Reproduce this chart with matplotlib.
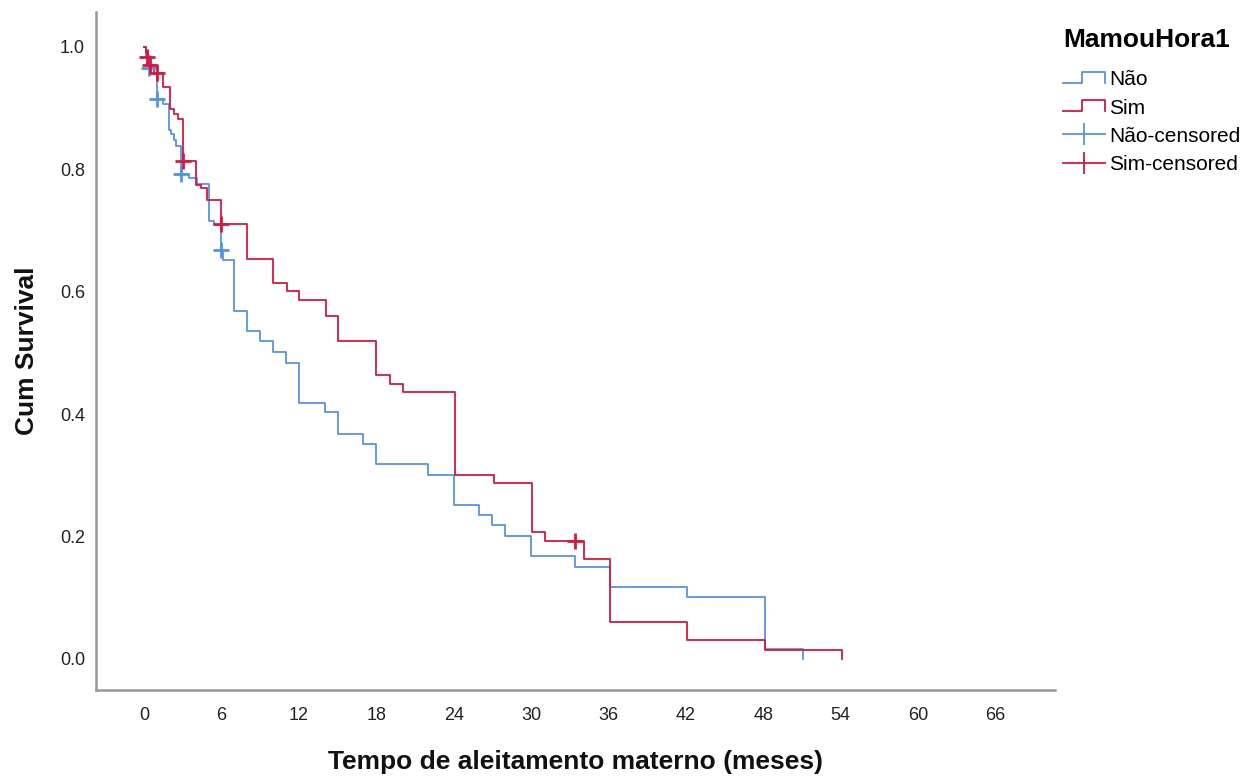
import matplotlib
matplotlib.use("Agg")
import matplotlib.pyplot as plt
from matplotlib.lines import Line2D
from matplotlib.legend_handler import HandlerBase

plt.rcParams['font.family'] = ['Liberation Sans', 'DejaVu Sans']

# Kaplan-Meier steps (time in months, survival after the drop)
nao_t = [0, 0.15, 0.5, 1.0, 1.45, 1.95, 2.1, 2.3, 2.5, 2.9, 3.5, 4.1, 5.0, 5.4, 6.0, 6.15,
         7.0, 8.0, 9.0, 10.0, 11.0, 12.0, 14.0, 15.0, 17.0, 18.0, 22.0, 24.0, 26.0, 27.0,
         28.0, 30.0, 33.4, 36.1, 42.1, 48.1, 51.1]
nao_s = [1.0, 0.985, 0.965, 0.915, 0.907, 0.864, 0.858, 0.848, 0.838, 0.793, 0.785, 0.776,
         0.716, 0.709, 0.668, 0.652, 0.569, 0.536, 0.519, 0.502, 0.484, 0.419, 0.403, 0.368,
         0.351, 0.318, 0.301, 0.252, 0.236, 0.219, 0.201, 0.168, 0.151, 0.118, 0.101, 0.017, 0.0]
nao_cens_t = [0.4, 1.0, 2.9, 6.0]
nao_cens_s = [0.965, 0.915, 0.793, 0.668]

sim_t = [0, 0.15, 0.3, 0.5, 0.8, 1.5, 2.0, 2.3, 2.6, 3.0, 4.05, 4.4, 4.9, 6.0, 8.0, 10.0,
         11.1, 12.0, 14.1, 15.0, 18.0, 19.1, 20.1, 24.1, 27.1, 30.1, 31.1, 34.1, 36.1, 42.1,
         48.1, 54.1]
sim_s = [1.0, 0.99, 0.984, 0.971, 0.958, 0.935, 0.899, 0.890, 0.883, 0.813, 0.775, 0.770,
         0.750, 0.710, 0.654, 0.614, 0.601, 0.587, 0.560, 0.519, 0.464, 0.450, 0.436, 0.301,
         0.287, 0.207, 0.193, 0.163, 0.060, 0.031, 0.015, 0.0]
sim_cens_t = [0.2, 0.5, 1.0, 3.0, 6.0, 33.4]
sim_cens_s = [0.984, 0.971, 0.958, 0.813, 0.710, 0.193]

x_ticks = [0, 6, 12, 18, 24, 30, 36, 42, 48, 54, 60, 66]
y_ticks = [0.0, 0.2, 0.4, 0.6, 0.8, 1.0]

blue = '#5593E6'
red = '#D51840'


class StepHandler(HandlerBase):
    # legend icon shaped like a survival step
    def create_artists(self, legend, orig_handle, xdescent, ydescent, width, height, fontsize, trans):
        x0, x1 = -xdescent, -xdescent + width
        xm = x0 + 0.45 * width
        lo, hi = -ydescent + 0.15 * height, -ydescent + 0.95 * height
        ln = Line2D([x0, xm, xm, x1, x1], [lo, lo, hi, hi, lo],
                    color=orig_handle.get_color(), lw=orig_handle.get_linewidth())
        ln.set_transform(trans)
        return [ln]


fig = plt.figure(figsize=(12.6, 7.8), dpi=100)
ax = fig.add_axes([96 / 1260, 90 / 780, 959 / 1260, 678 / 780])

ax.step(nao_t, nao_s, where='post', color=blue, lw=1.3)
ax.step(sim_t, sim_s, where='post', color=red, lw=1.3)
ax.plot(nao_cens_t, nao_cens_s, ls='none', marker='+', ms=11, mew=2, color=blue)
ax.plot(sim_cens_t, sim_cens_s, ls='none', marker='+', ms=11, mew=2, color=red)

ax.set_xlim(-3.72, 70.6)
ax.set_ylim(-0.0507, 1.057)
ax.set_xticks(x_ticks)
ax.set_yticks(y_ticks)
ax.set_yticklabels([f'{v:.1f}' for v in y_ticks])
ax.tick_params(length=0, labelsize=13, colors='#222222')
ax.tick_params(axis='x', pad=12)
ax.tick_params(axis='y', pad=8)

for side in ['top', 'right']:
    ax.spines[side].set_visible(False)
for side in ['left', 'bottom']:
    ax.spines[side].set_color('#999999')
    ax.spines[side].set_linewidth(1.8)

fig.text(575 / 1260, 1 - 762 / 780, 'Tempo de aleitamento materno (meses)',
         ha='center', va='center', fontsize=19, fontweight='bold', color='#111111')
fig.text(27 / 1260, 1 - 351 / 780, 'Cum Survival', rotation=90,
         ha='center', va='center', fontsize=19, fontweight='bold', color='#111111')

h_nao = Line2D([], [], color=blue, lw=1.3)
h_sim = Line2D([], [], color=red, lw=1.3)
h_nao_c = Line2D([], [], color=blue, lw=1.3, marker='|', ms=16, mew=1.3)
h_sim_c = Line2D([], [], color=red, lw=1.3, marker='|', ms=16, mew=1.3)

leg = fig.legend([h_nao, h_sim, h_nao_c, h_sim_c],
                 ['Não', 'Sim', 'Não-censored', 'Sim-censored'],
                 title='MamouHora1', loc='upper left',
                 bbox_to_anchor=(1055 / 1260, 1 - 20 / 780),
                 frameon=False, fontsize=15, handlelength=2.0, handletextpad=0.2,
                 labelspacing=0.44, borderaxespad=0,
                 handler_map={h_nao: StepHandler(), h_sim: StepHandler()})
leg.get_title().set_fontsize(19)
leg.get_title().set_fontweight('bold')
leg._legend_box.align = 'left'
leg._legend_box.sep = 13

fig.savefig('out.png', dpi=100)
